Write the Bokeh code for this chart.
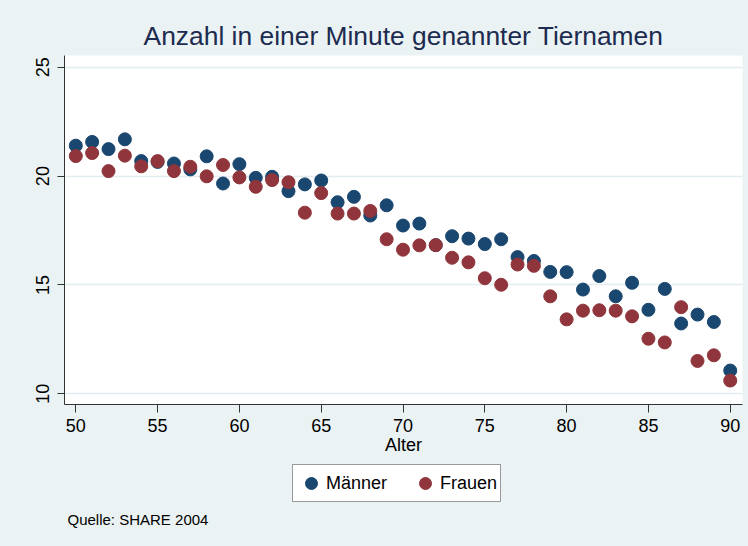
from bokeh.plotting import figure
from bokeh.models import ColumnDataSource, Legend, LegendItem, Title, Range1d, FixedTicker, Label
from bokeh.layouts import column
from bokeh.embed import file_html
from bokeh.resources import INLINE

# ---- data ----
ages = list(range(50, 91))
maenner = [21.40, 21.57, 21.24, 21.69, 20.69, 20.65, 20.58, 20.31, 20.91, 19.66,
           20.55, 19.92, 19.97, 19.31, 19.62, 19.80, 18.80, 19.05, 18.19, 18.66,
           17.73, 17.82, 16.83, 17.24, 17.13, 16.88, 17.10, 16.28, 16.10, 15.60,
           15.59, 14.79, 15.41, 14.48, 15.10, 13.86, 14.82, 13.23, 13.64, 13.30,
           11.07]
frauen = [20.92, 21.06, 20.23, 20.94, 20.45, 20.69, 20.23, 20.43, 19.99, 20.51,
          19.94, 19.51, 19.82, 19.72, 18.32, 19.22, 18.28, 18.28, 18.40, 17.10,
          16.62, 16.82, 16.83, 16.25, 16.04, 15.31, 15.01, 15.94, 15.88, 14.48,
          13.42, 13.82, 13.84, 13.82, 13.56, 12.53, 12.36, 13.98, 11.51, 11.77,
          10.61]
x_ticks = [50, 55, 60, 65, 70, 75, 80, 85, 90]
y_ticks = [10, 15, 20, 25]
series_names = ["Männer", "Frauen"]
title_text = "Anzahl in einer Minute genannter Tiernamen"
x_label = "Alter"
footer_text = "Quelle: SHARE 2004"

BG = "#EAF2F3"
BLUE = "#1A476F"
RED = "#90353B"
FONT = "Liberation Sans"

src = ColumnDataSource(dict(age=ages, m=maenner, f=frauen))

# ---- main chart ----
p = figure(frame_width=678, frame_height=349, output_backend="svg", toolbar_location=None,
           x_range=Range1d(49.31, 90.75), y_range=Range1d(9.51, 25.54),
           border_fill_color=BG, background_fill_color="white",
           outline_line_color=None,
           min_border_left=64, min_border_right=6, min_border_top=55, min_border_bottom=60)

p.title = Title(text=title_text, align="center", text_font=FONT, text_font_size="26.4px",
                text_font_style="normal", text_color="#1C2B4F", standoff=10)

p.scatter("age", "m", source=src, size=13, fill_color=BLUE, line_color=BLUE)
p.scatter("age", "f", source=src, size=13, fill_color=RED, line_color=RED)

for ax in (p.xaxis[0], p.yaxis[0]):
    ax.axis_line_color = "#333333"
    ax.major_tick_line_color = "#333333"
    ax.major_tick_in = 0
    ax.minor_tick_line_color = None
    ax.major_label_text_font = FONT
    ax.major_label_text_font_size = "18px"
    ax.major_label_text_color = "black"

p.xaxis.major_tick_out = 8
p.yaxis.major_tick_out = 7
p.xaxis.major_label_standoff = 6
p.yaxis.major_label_standoff = 8
p.xaxis.ticker = FixedTicker(ticks=x_ticks)
p.yaxis.ticker = FixedTicker(ticks=y_ticks)
p.yaxis.major_label_orientation = "vertical"
p.xaxis.axis_label = x_label
p.xaxis.axis_label_text_font = FONT
p.xaxis.axis_label_text_font_size = "18px"
p.xaxis.axis_label_text_font_style = "normal"
p.xaxis.axis_label_text_color = "black"
p.xaxis.axis_label_standoff = 0

p.xgrid.grid_line_color = None
p.ygrid.grid_line_color = "#E3ECEE"
p.ygrid.grid_line_width = 1.5

# ---- legend + note strip (its frame is aligned with the chart frame, x0 = 64) ----
LEG_H = 82
FRAME_X0 = 64
q = figure(width=748, height=LEG_H, output_backend="svg", toolbar_location=None,
           x_range=Range1d(0, 1), y_range=Range1d(0, 1),
           x_axis_location=None, y_axis_location=None,
           border_fill_color=BG, background_fill_color=BG, outline_line_color=None,
           min_border=0)
q.grid.visible = False
# legend proxies: same data, but outside this strip's (empty) view
proxy_m = q.scatter("age", "m", source=src, size=13, fill_color=BLUE, line_color=BLUE)
proxy_f = q.scatter("age", "f", source=src, size=13, fill_color=RED, line_color=RED)

legend = Legend(items=[LegendItem(label=series_names[0], renderers=[proxy_m], index=0),
                       LegendItem(label=series_names[1], renderers=[proxy_f], index=0)],
                orientation="horizontal", location=(292 - FRAME_X0, LEG_H - 38),
                label_text_font=FONT, label_text_font_size="18px", label_text_color="black",
                glyph_width=30, glyph_height=30, label_height=30,
                padding=3, spacing=23, label_standoff=0, margin=0,
                border_line_color="#333333", border_line_width=1,
                background_fill_color="white", background_fill_alpha=1.0)
q.add_layout(legend, "center")

note = Label(x=67 - FRAME_X0, y=LEG_H - 55, x_units="screen", y_units="screen", text=footer_text,
             text_font=FONT, text_font_size="15px", text_baseline="middle", text_color="black")
q.add_layout(note)

layout = column(p, q, spacing=0, styles={"background-color": BG})

html = file_html(layout, INLINE)
html = html.replace("<body>", '<body style="background-color:%s;">' % BG)
open("out.html", "w").write(html)
